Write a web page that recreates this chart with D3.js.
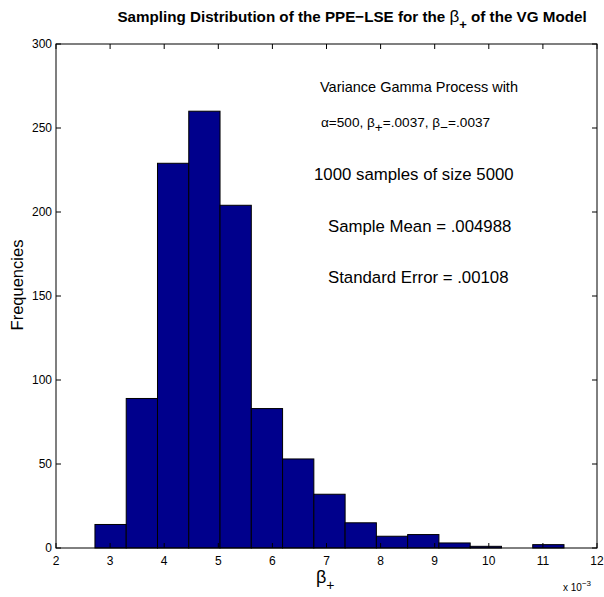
<!DOCTYPE html>
<html><head><meta charset="utf-8">
<script src="https://cdn.jsdelivr.net/npm/d3@7"></script>
<style>body{margin:0;background:#fff}svg{font-family:"Liberation Sans",Arial,sans-serif}</style>
</head><body><svg id="c" width="604" height="597"></svg>
<script>
const binStart = 2.72;      // x 10^-3
const binWidth = 0.578;
const counts = [14, 89, 229, 260, 204, 83, 53, 32, 15, 7, 8, 3, 1, 0, 2];
const xTicks = [2,3,4,5,6,7,8,9,10,11,12];
const yTicks = [0,50,100,150,200,250,300];

const svg = d3.select("#c");
const L=56,R=597,T=44,B=548;
const x = d3.scaleLinear().domain([2,12]).range([L,R]);
const y = d3.scaleLinear().domain([0,300]).range([B,T]);

const bins = counts.map((c,i)=>({x0:binStart+i*binWidth,x1:binStart+(i+1)*binWidth,c}));
svg.append("g").selectAll("rect").data(bins).join("rect")
  .attr("x",d=>x(d.x0)).attr("y",d=>y(d.c))
  .attr("width",d=>x(d.x1)-x(d.x0)).attr("height",d=>y(0)-y(d.c))
  .attr("fill","#00008c").attr("stroke","#000").attr("stroke-width",1);

// frame
svg.append("rect").attr("x",L).attr("y",T).attr("width",R-L).attr("height",B-T)
  .attr("fill","none").attr("stroke","#000").attr("stroke-width",1);

const tl=5;
const gx=svg.append("g").attr("stroke","#000");
xTicks.forEach(t=>{
  gx.append("line").attr("x1",x(t)).attr("x2",x(t)).attr("y1",B).attr("y2",B-tl);
  gx.append("line").attr("x1",x(t)).attr("x2",x(t)).attr("y1",T).attr("y2",T+tl);
});
yTicks.forEach(t=>{
  gx.append("line").attr("x1",L).attr("x2",L+tl).attr("y1",y(t)).attr("y2",y(t));
  gx.append("line").attr("x1",R).attr("x2",R-tl).attr("y1",y(t)).attr("y2",y(t));
});
svg.append("g").selectAll("text").data(xTicks).join("text")
  .attr("x",d=>x(d)).attr("y",B+17).attr("text-anchor","middle").attr("font-size",12).text(d=>d);
svg.append("g").selectAll("text").data(yTicks).join("text")
  .attr("x",L-4).attr("y",d=>y(d)+4).attr("text-anchor","end").attr("font-size",12).text(d=>d);

// title
const title=svg.append("text").attr("x",352).attr("y",22).attr("text-anchor","middle")
  .attr("font-size",15.2).attr("font-weight","bold");
title.append("tspan").text("Sampling Distribution of the PPE\u2212LSE for the ");
title.append("tspan").attr("font-weight","normal").attr("font-size",17).text("\u03b2");
title.append("tspan").attr("dy",7).attr("font-size",13).text("+");
title.append("tspan").attr("dy",-7).text(" of the VG Model");

// axis labels
svg.append("text").attr("transform","translate(23,285) rotate(-90)").attr("text-anchor","middle")
  .attr("font-size",16.5).text("Frequencies");
const xl=svg.append("text").attr("x",316).attr("y",583).attr("font-size",18);
xl.append("tspan").text("\u03b2");
xl.append("tspan").attr("dy",7).attr("font-size",14).text("+");
const ex=svg.append("text").attr("x",563).attr("y",591).attr("font-size",10);
ex.append("tspan").text("x 10");
ex.append("tspan").attr("dy",-5).attr("font-size",8).text("\u22123");

// annotations
svg.append("text").attr("x",320).attr("y",92).attr("font-size",14.5).text("Variance Gamma Process with");
const a=svg.append("text").attr("x",321).attr("y",127).attr("font-size",13.6);
a.append("tspan").text("\u03b1=500, \u03b2");
a.append("tspan").attr("dy",5).text("+");
a.append("tspan").attr("dy",-5).text("=.0037, \u03b2");
a.append("tspan").attr("dy",5).text("\u2212");
a.append("tspan").attr("dy",-5).text("=.0037");
svg.append("text").attr("x",314).attr("y",180).attr("font-size",16.8).text("1000 samples of size 5000");
svg.append("text").attr("x",328).attr("y",232).attr("font-size",16.8).text("Sample Mean = .004988");
svg.append("text").attr("x",328).attr("y",283).attr("font-size",16.8).text("Standard Error = .00108");
</script></body></html>
